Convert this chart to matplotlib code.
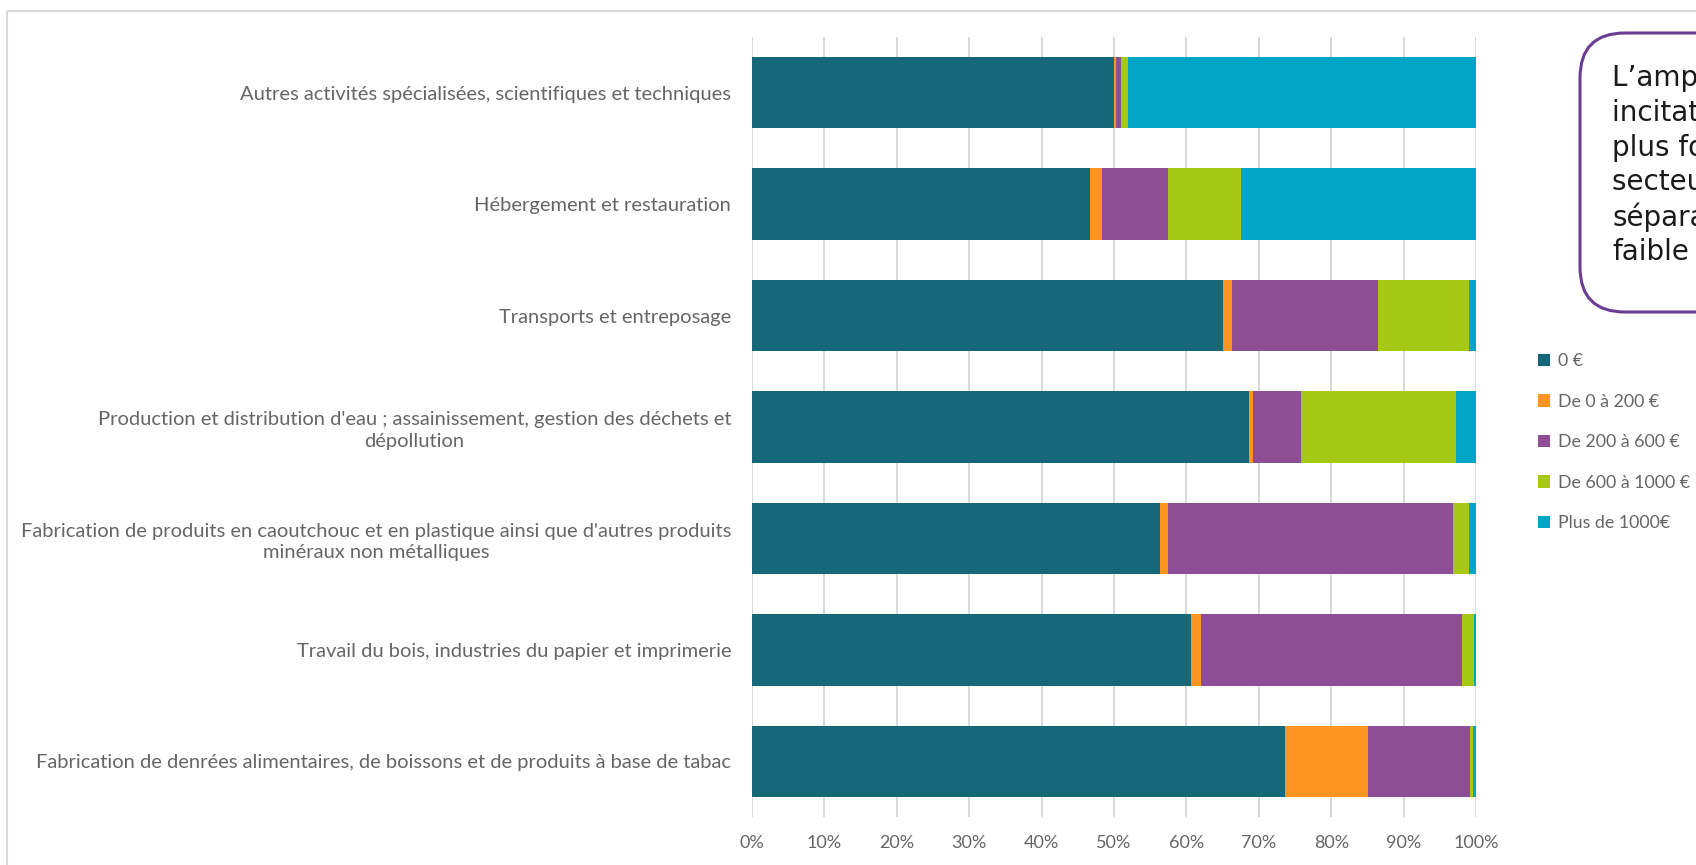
import matplotlib.pyplot as plt
from matplotlib.patches import Rectangle, FancyBboxPatch, Patch

# categories, top to bottom
categories = [
    "Autres activités spécialisées, scientifiques et techniques",
    "Hébergement et restauration",
    "Transports et entreposage",
    "Production et distribution d'eau ; assainissement, gestion des déchets et\ndépollution",
    "Fabrication de produits en caoutchouc et en plastique ainsi que d'autres produits\nminéraux non métalliques",
    "Travail du bois, industries du papier et imprimerie",
    "Fabrication de denrées alimentaires, de boissons et de produits à base de tabac",
]

# shares in % per class
zero = [50.0, 46.7, 65.0, 68.6, 56.3, 60.7, 73.6]
de_0_200 = [0.3, 1.6, 1.3, 0.6, 1.1, 1.3, 11.5]
de_200_600 = [0.7, 9.2, 20.1, 6.6, 39.4, 36.1, 14.1]
de_600_1000 = [1.0, 10.0, 12.7, 21.5, 2.2, 1.6, 0.4]
plus_1000 = [48.0, 32.5, 0.9, 2.7, 1.0, 0.3, 0.4]

series = [zero, de_0_200, de_200_600, de_600_1000, plus_1000]
labels = ["0 €", "De 0 à 200 €", "De 200 à 600 €", "De 600 à 1000 €", "Plus de 1000€"]
colors = ["#156878", "#FE9421", "#8E4E95", "#A6C916", "#01A5C5"]

xticks = [0, 10, 20, 30, 40, 50, 60, 70, 80, 90, 100]

box_lines = ["L’ampleur des", "incitations est", "plus forte dans", "secteurs et", "séparation", "faible"]

W, H = 1696, 865
fig = plt.figure(figsize=(W / 100, H / 100), dpi=100)

# overlay in pixel coordinates for frame and note box
over = fig.add_axes([0, 0, 1, 1], zorder=0)
over.set_xlim(0, W)
over.set_ylim(H, 0)
over.axis("off")
over.add_patch(Rectangle((7, 11), 2000, 2000, fill=False, edgecolor="#D9D9D9", lw=1.5))

ax = fig.add_axes([752 / W, 1 - 817 / H, (1476 - 752) / W, (817 - 37) / H], zorder=1)
ax.set_facecolor("none")

left = [0] * len(categories)
for vals, lab, col in zip(series, labels, colors):
    ax.barh(categories, vals, left=left, height=0.64, color=col, label=lab, zorder=3)
    left = [a + b for a, b in zip(left, vals)]

ax.set_xlim(0, 100)
ax.set_ylim(len(categories) - 0.5, -0.5)
ax.set_xticks(xticks)
ax.set_xticklabels([f"{t}%" for t in xticks])
ax.grid(axis="x", color="#D9D9D9", lw=1.4, zorder=0)
for s in ax.spines.values():
    s.set_visible(False)
ax.tick_params(axis="both", length=0, colors="#666666")
ax.tick_params(axis="x", pad=13, labelsize=13)
ax.tick_params(axis="y", pad=15, labelsize=14.5)
for t in ax.get_yticklabels() + ax.get_xticklabels():
    t.set_fontfamily("Lato")
for t in ax.get_yticklabels():
    t.set_multialignment("center")
    t.set_linespacing(1.3)

handles = [Patch(facecolor=c, label=l) for c, l in zip(colors, labels)]
fig.legend(handles=handles, loc="upper left", bbox_to_anchor=(1538 / W, 1 - 353 / H),
           frameon=False, borderpad=0, borderaxespad=0, handlelength=0.7, handleheight=0.7,
           handletextpad=0.45, labelspacing=1.38, prop={"family": "Lato", "size": 12.8},
           labelcolor="#666666")

# note box (cut by the right edge)
over.add_patch(FancyBboxPatch((1580, 33), 500, 279, boxstyle="round,pad=0,rounding_size=45",
                              facecolor="white", edgecolor="#6B3C93", lw=2.2, zorder=2))
for i, line in enumerate(box_lines):
    over.text(1612, 78 + i * 34.8, line, fontsize=20, family="DejaVu Sans", color="#1A1A1A",
              va="center", ha="left", zorder=3)

fig.savefig("out.png", dpi=100)
